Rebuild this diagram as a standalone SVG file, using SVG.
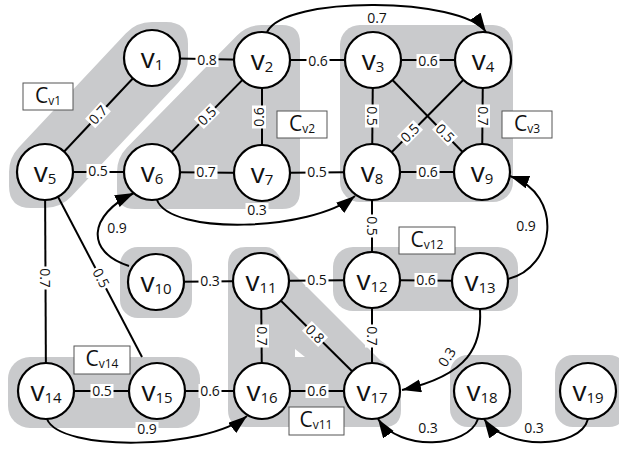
<svg xmlns="http://www.w3.org/2000/svg" width="619" height="455" viewBox="0 0 619 455">
  <defs>
    <marker id="arrow" markerUnits="userSpaceOnUse" markerWidth="20" markerHeight="14" refX="19" refY="6.5" orient="auto">
      <path d="M0,0 L19,6.5 L0,13 Z" fill="#000"/>
    </marker>
    <style>
      .cl{fill:#c9cacc}
      .e{stroke:#000;stroke-width:2;fill:none}
      .a{stroke:#000;stroke-width:2;fill:none;marker-end:url(#arrow)}
      .n circle{fill:#fff;stroke:#000;stroke-width:2.2}
      .n text{font-family:"Open Sans","Liberation Sans",sans-serif;font-size:28px;text-anchor:middle;fill:#111}
      .n tspan{font-size:15px}
      .w rect{fill:#fff}
      .w text{font-family:"Open Sans","Liberation Sans",sans-serif;font-size:14px;text-anchor:middle;fill:#111}
      .cb rect{fill:#fff;stroke:#555;stroke-width:1}
      .cb text{font-family:"Open Sans","Liberation Sans",sans-serif;font-size:21px;text-anchor:middle;fill:#111}
      .cb tspan{font-size:12px}
    </style>
  </defs>

  <!-- community regions -->
  <g id="clusters">
    <path class="cl" d="M125.7,33.4 A36,36 0 0 1 152,22 H166 Q188,22 188,44 V58 A36,36 0 0 1 178.3,82.6 L71.3,196.6 A36,36 0 0 1 45,208 H31 Q9,208 9,186 V172 A36,36 0 0 1 18.7,147.4 Z"/>
    <path class="cl" d="M262,25 H282 Q300,25 300,43 V191 Q300,209 282,209 H135 Q117,209 117,191 V172 A35,35 0 0 1 127,147.5 L237,35.5 A35,35 0 0 1 262,25 Z"/>
    <rect class="cl" x="340" y="25" width="173" height="177" rx="20"/>
    <rect class="cl" x="120" y="247" width="72" height="71" rx="18"/>
    <rect class="cl" x="333" y="247" width="185" height="64" rx="20"/>
    <path class="cl" d="M246,247 H266 Q276,247 283,263 L380,360 Q401,374 401,392 V410 Q401,427 384,427 H246 Q228,427 228,410 V265 Q228,247 246,247 Z"/>
    <polygon points="295,349 295,357 305,357" fill="#fff"/>
    <rect class="cl" x="8" y="357" width="192" height="71" rx="22"/>
    <rect class="cl" x="450" y="355" width="72" height="72" rx="18"/>
    <rect class="cl" x="555" y="355" width="72" height="72" rx="18"/>
  </g>

  <!-- connectors -->
  <g id="connectors">
    <line class="e" x1="152" y1="58" x2="262" y2="60"/>
    <line class="e" x1="152" y1="58" x2="45" y2="172"/>
    <line class="e" x1="262" y1="60" x2="373" y2="60"/>
    <line class="e" x1="262" y1="60" x2="152" y2="172"/>
    <line class="e" x1="262" y1="60" x2="262" y2="173"/>
    <line class="e" x1="373" y1="60" x2="483" y2="60"/>
    <line class="e" x1="373" y1="60" x2="372" y2="172"/>
    <line class="e" x1="373" y1="60" x2="482" y2="172"/>
    <line class="e" x1="483" y1="60" x2="372" y2="172"/>
    <line class="e" x1="483" y1="60" x2="482" y2="172"/>
    <line class="e" x1="45" y1="172" x2="152" y2="172"/>
    <line class="e" x1="152" y1="172" x2="262" y2="173"/>
    <line class="e" x1="262" y1="173" x2="372" y2="172"/>
    <line class="e" x1="372" y1="172" x2="482" y2="172"/>
    <line class="e" x1="45" y1="172" x2="46" y2="391"/>
    <line class="e" x1="45" y1="172" x2="142" y2="357"/>
    <line class="e" x1="372" y1="172" x2="372" y2="280"/>
    <line class="e" x1="156" y1="282" x2="261" y2="281"/>
    <line class="e" x1="261" y1="281" x2="372" y2="280"/>
    <line class="e" x1="372" y1="280" x2="480" y2="281"/>
    <line class="e" x1="261" y1="281" x2="262" y2="391"/>
    <line class="e" x1="261" y1="281" x2="372" y2="391"/>
    <line class="e" x1="372" y1="280" x2="372" y2="391"/>
    <line class="e" x1="46" y1="391" x2="157" y2="391"/>
    <line class="e" x1="157" y1="391" x2="262" y2="391"/>
    <line class="e" x1="262" y1="391" x2="372" y2="391"/>

    <path class="a" d="M267,32 C285,-5 462,-3 486,32"/>
    <path class="a" d="M157,200 C170,235 310,232 355,196"/>
    <path class="a" d="M129,266 C85,252 88,215 134,193"/>
    <path class="a" d="M508,279 C555,268 565,195 510,176"/>
    <path class="a" d="M480,309 C482,345 470,375 402,390"/>
    <path class="a" d="M47,419 C60,452 205,450 247,416"/>
    <path class="a" d="M478,419 C468,448 400,452 378,419"/>
    <path class="a" d="M588,419 C580,450 505,450 484,419"/>

    <!-- weights -->
    <g class="w">
      <g transform="translate(207,60)"><rect x="-11.5" y="-7" width="23" height="14"/><text y="5">0.8</text></g>
      <g transform="translate(98,115) rotate(-47)"><rect x="-11.5" y="-7" width="23" height="14"/><text y="5">0.7</text></g>
      <g transform="translate(318,61)"><rect x="-11.5" y="-7" width="23" height="14"/><text y="5">0.6</text></g>
      <g transform="translate(207,116) rotate(-45)"><rect x="-11.5" y="-7" width="23" height="14"/><text y="5">0.5</text></g>
      <g transform="translate(259,117) rotate(-90)"><rect x="-11.5" y="-7" width="23" height="14"/><text y="5">0.6</text></g>
      <g transform="translate(428,61)"><rect x="-11.5" y="-7" width="23" height="14"/><text y="5">0.6</text></g>
      <g transform="translate(372,116) rotate(90)"><rect x="-11.5" y="-7" width="23" height="14"/><text y="5">0.5</text></g>
      <g transform="translate(483,116) rotate(90)"><rect x="-11.5" y="-7" width="23" height="14"/><text y="5">0.7</text></g>
      <g transform="translate(410,133) rotate(-45)"><rect x="-11.5" y="-7" width="23" height="14"/><text y="5">0.5</text></g>
      <g transform="translate(445,133) rotate(46)"><rect x="-11.5" y="-7" width="23" height="14"/><text y="5">0.5</text></g>
      <g transform="translate(428,172)"><rect x="-11.5" y="-7" width="23" height="14"/><text y="5">0.6</text></g>
      <g transform="translate(317,172)"><rect x="-11.5" y="-7" width="23" height="14"/><text y="5">0.5</text></g>
      <g transform="translate(206,172)"><rect x="-11.5" y="-7" width="23" height="14"/><text y="5">0.7</text></g>
      <g transform="translate(98,171)"><rect x="-11.5" y="-7" width="23" height="14"/><text y="5">0.5</text></g>
      <g transform="translate(45,278) rotate(90)"><rect x="-11.5" y="-7" width="23" height="14"/><text y="5">0.7</text></g>
      <g transform="translate(101,278) rotate(62)"><rect x="-11.5" y="-7" width="23" height="14"/><text y="5">0.5</text></g>
      <g transform="translate(372,226) rotate(90)"><rect x="-11.5" y="-7" width="23" height="14"/><text y="5">0.5</text></g>
      <g transform="translate(210,281)"><rect x="-11.5" y="-7" width="23" height="14"/><text y="5">0.3</text></g>
      <g transform="translate(317,280)"><rect x="-11.5" y="-7" width="23" height="14"/><text y="5">0.5</text></g>
      <g transform="translate(426,280)"><rect x="-11.5" y="-7" width="23" height="14"/><text y="5">0.6</text></g>
      <g transform="translate(262,336) rotate(90)"><rect x="-11.5" y="-7" width="23" height="14"/><text y="5">0.7</text></g>
      <g transform="translate(315,334) rotate(45)"><rect x="-11.5" y="-7" width="23" height="14"/><text y="5">0.8</text></g>
      <g transform="translate(372,336) rotate(90)"><rect x="-11.5" y="-7" width="23" height="14"/><text y="5">0.7</text></g>
      <g transform="translate(102,391)"><rect x="-11.5" y="-7" width="23" height="14"/><text y="5">0.5</text></g>
      <g transform="translate(210,391)"><rect x="-11.5" y="-7" width="23" height="14"/><text y="5">0.6</text></g>
      <g transform="translate(317,391)"><rect x="-11.5" y="-7" width="23" height="14"/><text y="5">0.6</text></g>

      <g transform="translate(377,18)"><rect x="-11.5" y="-7" width="23" height="14"/><text y="5">0.7</text></g>
      <g transform="translate(257,210)"><rect x="-11.5" y="-7" width="23" height="14"/><text y="5">0.3</text></g>
      <g transform="translate(117,228)"><rect x="-11.5" y="-7" width="23" height="14"/><text y="5">0.9</text></g>
      <g transform="translate(526,226)"><rect x="-11.5" y="-7" width="23" height="14"/><text y="5">0.9</text></g>
      <g transform="translate(447,357) rotate(-57)"><rect x="-11.5" y="-7" width="23" height="14"/><text y="5">0.3</text></g>
      <g transform="translate(147,429)"><rect x="-11.5" y="-7" width="23" height="14"/><text y="5">0.9</text></g>
      <g transform="translate(428,428)"><rect x="-11.5" y="-7" width="23" height="14"/><text y="5">0.3</text></g>
      <g transform="translate(534,428)"><rect x="-11.5" y="-7" width="23" height="14"/><text y="5">0.3</text></g>
    </g>
  </g>

  <!-- vertices -->
  <g id="v1" class="n"><circle cx="152" cy="58" r="28"/><text x="152" y="68">v<tspan dy="2">1</tspan></text></g>
  <g id="v2" class="n"><circle cx="262" cy="60" r="28"/><text x="262" y="70">v<tspan dy="2">2</tspan></text></g>
  <g id="v3" class="n"><circle cx="373" cy="60" r="28"/><text x="373" y="70">v<tspan dy="2">3</tspan></text></g>
  <g id="v4" class="n"><circle cx="483" cy="60" r="28"/><text x="483" y="70">v<tspan dy="2">4</tspan></text></g>
  <g id="v5" class="n"><circle cx="45" cy="172" r="28"/><text x="45" y="182">v<tspan dy="2">5</tspan></text></g>
  <g id="v6" class="n"><circle cx="152" cy="172" r="28"/><text x="152" y="182">v<tspan dy="2">6</tspan></text></g>
  <g id="v7" class="n"><circle cx="262" cy="173" r="28"/><text x="262" y="183">v<tspan dy="2">7</tspan></text></g>
  <g id="v8" class="n"><circle cx="372" cy="172" r="28"/><text x="372" y="182">v<tspan dy="2">8</tspan></text></g>
  <g id="v9" class="n"><circle cx="482" cy="172" r="28"/><text x="482" y="182">v<tspan dy="2">9</tspan></text></g>
  <g id="v10" class="n"><circle cx="156" cy="282" r="28"/><text x="156" y="292">v<tspan dy="2">10</tspan></text></g>
  <g id="v11" class="n"><circle cx="261" cy="281" r="28"/><text x="261" y="291">v<tspan dy="2">11</tspan></text></g>
  <g id="v12" class="n"><circle cx="372" cy="280" r="28"/><text x="372" y="290">v<tspan dy="2">12</tspan></text></g>
  <g id="v13" class="n"><circle cx="480" cy="281" r="28"/><text x="480" y="291">v<tspan dy="2">13</tspan></text></g>
  <g id="v14" class="n"><circle cx="46" cy="391" r="28"/><text x="46" y="401">v<tspan dy="2">14</tspan></text></g>
  <g id="v15" class="n"><circle cx="157" cy="391" r="28"/><text x="157" y="401">v<tspan dy="2">15</tspan></text></g>
  <g id="v16" class="n"><circle cx="262" cy="391" r="28"/><text x="262" y="401">v<tspan dy="2">16</tspan></text></g>
  <g id="v17" class="n"><circle cx="372" cy="391" r="28"/><text x="372" y="401">v<tspan dy="2">17</tspan></text></g>
  <g id="v18" class="n"><circle cx="482" cy="391" r="28"/><text x="482" y="401">v<tspan dy="2">18</tspan></text></g>
  <g id="v19" class="n"><circle cx="588" cy="391" r="28"/><text x="588" y="401">v<tspan dy="2">19</tspan></text></g>

  <!-- community labels -->
  <g id="labels" class="cb">
    <g id="Cv1"><rect x="23" y="83" width="50" height="27"/><text x="48" y="103">C<tspan dy="2">v1</tspan></text></g>
    <g id="Cv2"><rect x="277" y="111" width="50" height="27"/><text x="302" y="131">C<tspan dy="2">v2</tspan></text></g>
    <g id="Cv3"><rect x="502" y="111" width="50" height="27"/><text x="527" y="131">C<tspan dy="2">v3</tspan></text></g>
    <g id="Cv12"><rect x="399" y="227" width="56" height="27"/><text x="427" y="247">C<tspan dy="2">v12</tspan></text></g>
    <g id="Cv14"><rect x="74" y="346" width="56" height="28"/><text x="102" y="366">C<tspan dy="2">v14</tspan></text></g>
    <g id="Cv11"><rect x="289" y="407" width="55" height="28"/><text x="316" y="427">C<tspan dy="2">v11</tspan></text></g>
  </g>
</svg>
